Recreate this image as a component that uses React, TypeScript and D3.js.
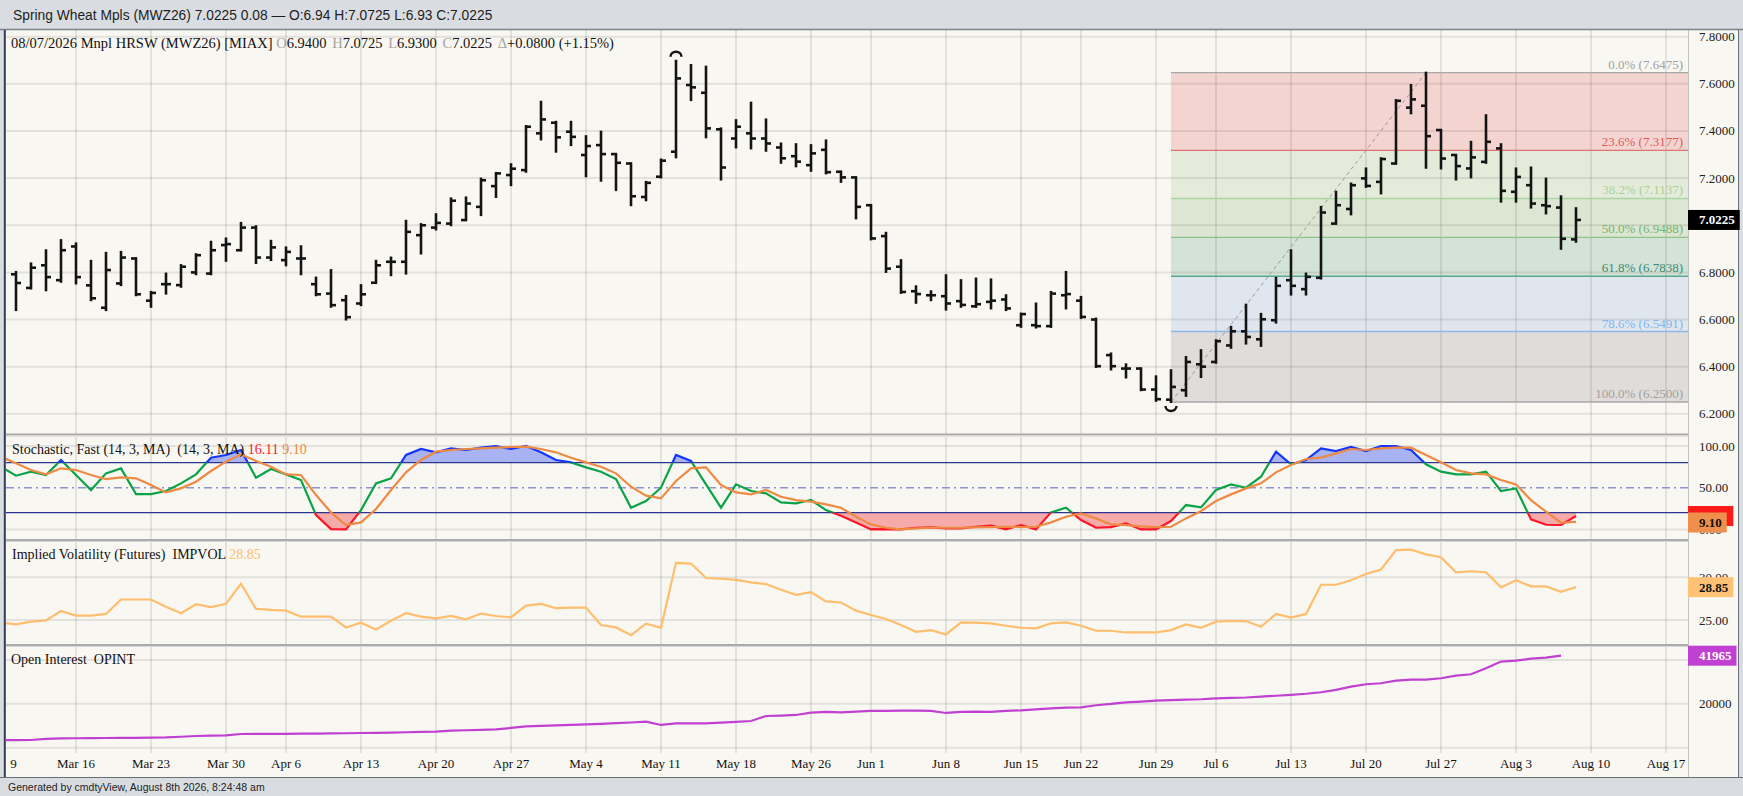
import * as d3 from "d3";

const W = 1743;
const H = 796;

// ---- calendar ----
const START_DATE = "2026-03-09";
const AXIS_END_DATE = "2026-08-21";
const HOLIDAYS = ["2026-04-03", "2026-05-25", "2026-06-19", "2026-07-03"];

// ---- price bars, Mar 10 .. Aug 7 (trading-day index 1..105) ----
const BAR_OFFSET = 1;
const OPEN = [
  6.792, 6.734, 6.83, 6.767, 6.91, 6.745, 6.65, 6.753, 6.859, 6.68,
  6.75, 6.746, 6.8, 6.795, 6.916, 6.894, 6.99, 6.863, 6.852, 6.859,
  6.75, 6.71, 6.682, 6.668, 6.756, 6.845, 6.845, 6.958, 6.99, 7.007,
  7.022, 7.078, 7.166, 7.213, 7.234, 7.39, 7.435, 7.397, 7.298, 7.34,
  7.302, 7.262, 7.12, 7.206, 7.312, 7.595, 7.562, 7.407, 7.368, 7.39,
  7.368, 7.33, 7.293, 7.255, 7.32, 7.227, 7.203, 7.085, 6.954, 6.824,
  6.72, 6.703, 6.699, 6.678, 6.656, 6.675, 6.685, 6.576, 6.576, 6.572,
  6.703, 6.68, 6.6, 6.449, 6.392, 6.392, 6.303, 6.26, 6.3, 6.41,
  6.42, 6.49, 6.55, 6.516, 6.597, 6.767, 6.729, 6.777, 7.007, 7.069,
  7.199, 7.184, 7.262, 7.499, 7.507, 7.404, 7.298, 7.241, 7.269, 7.326,
  7.142, 7.17, 7.085, 7.075, 6.94,
];
const HIGH = [
  6.802, 6.838, 6.894, 6.937, 6.923, 6.849, 6.883, 6.887, 6.859, 6.717,
  6.795, 6.831, 6.877, 6.93, 6.944, 7.01, 6.996, 6.934, 6.906, 6.911,
  6.778, 6.81, 6.7, 6.746, 6.849, 6.863, 7.019, 7.005, 7.047, 7.114,
  7.118, 7.198, 7.222, 7.259, 7.421, 7.524, 7.439, 7.439, 7.378, 7.397,
  7.302, 7.262, 7.184, 7.279, 7.698, 7.68, 7.673, 7.411, 7.446, 7.52,
  7.449, 7.347, 7.344, 7.34, 7.36, 7.227, 7.203, 7.085, 6.968, 6.852,
  6.741, 6.72, 6.788, 6.767, 6.774, 6.77, 6.703, 6.625, 6.668, 6.717,
  6.802, 6.696, 6.604, 6.456, 6.41, 6.392, 6.359, 6.385, 6.441, 6.47,
  6.512, 6.569, 6.663, 6.624, 6.777, 6.894, 6.795, 7.078, 7.142, 7.177,
  7.241, 7.284, 7.531, 7.595, 7.6475, 7.404, 7.298, 7.354, 7.467, 7.344,
  7.241, 7.245, 7.198, 7.123, 7.0725,
];
const LOW = [
  6.64, 6.732, 6.724, 6.76, 6.753, 6.682, 6.64, 6.746, 6.703, 6.654,
  6.71, 6.739, 6.792, 6.792, 6.849, 6.894, 6.84, 6.852, 6.83, 6.792,
  6.703, 6.654, 6.6, 6.661, 6.756, 6.788, 6.795, 6.88, 6.982, 7.0,
  7.022, 7.043, 7.12, 7.17, 7.227, 7.364, 7.312, 7.34, 7.208, 7.189,
  7.149, 7.085, 7.106, 7.203, 7.288, 7.531, 7.373, 7.194, 7.33, 7.326,
  7.316, 7.265, 7.25, 7.231, 7.22, 7.184, 7.029, 6.94, 6.802, 6.713,
  6.671, 6.682, 6.642, 6.654, 6.654, 6.647, 6.64, 6.569, 6.566, 6.569,
  6.647, 6.607, 6.399, 6.388, 6.354, 6.3, 6.255, 6.25, 6.276, 6.356,
  6.417, 6.48, 6.498, 6.488, 6.587, 6.706, 6.706, 6.774, 7.007, 7.046,
  7.163, 7.135, 7.262, 7.475, 7.244, 7.241, 7.194, 7.203, 7.265, 7.1,
  7.1, 7.075, 7.05, 6.9, 6.93,
];
const CLOSE = [
  6.755, 6.82, 6.78, 6.894, 6.78, 6.69, 6.81, 6.863, 6.707, 6.713,
  6.75, 6.824, 6.873, 6.894, 6.92, 6.99, 6.863, 6.906, 6.887, 6.859,
  6.707, 6.661, 6.61, 6.707, 6.83, 6.845, 6.972, 7.0, 7.01, 7.104,
  7.092, 7.191, 7.22, 7.24, 7.418, 7.449, 7.373, 7.375, 7.336, 7.302,
  7.265, 7.123, 7.18, 7.274, 7.623, 7.585, 7.411, 7.245, 7.418, 7.368,
  7.347, 7.284, 7.27, 7.305, 7.225, 7.203, 7.078, 6.944, 6.816, 6.717,
  6.708, 6.703, 6.668, 6.662, 6.665, 6.68, 6.647, 6.623, 6.572, 6.71,
  6.708, 6.611, 6.402, 6.402, 6.392, 6.303, 6.262, 6.314, 6.42, 6.4,
  6.508, 6.55, 6.526, 6.601, 6.743, 6.743, 6.781, 7.054, 7.085, 7.17,
  7.167, 7.281, 7.528, 7.534, 7.378, 7.283, 7.251, 7.288, 7.354, 7.146,
  7.205, 7.092, 7.081, 6.9425, 7.0225,
];

// ---- indicators, Mar 9 .. (index 0..) ----
const STOCH_K = [
  75, 64.4, 69.2, 65.2, 83.2, 65.2, 47.2, 67.2, 73.2, 42.4,
  42.4, 46, 55.2, 66, 86, 89.2, 95.2, 62, 72.4, 66,
  59.2, 17.2, 0.4, 0, 23.2, 55.2, 61.2, 89.2, 96.4, 92.4,
  97.2, 95.2, 98, 100, 96.4, 100, 92.4, 83.2, 80.4, 74.4,
  69.2, 60.4, 26, 34, 50, 89.2, 82, 54, 26, 54,
  46, 43.2, 32.4, 31.2, 35.2, 23.2, 16.4, 8.4, 0, 0.4,
  0, 2, 2.4, 1.2, 1.2, 3.2, 4.4, 0, 5.2, 0,
  20.4, 26, 11.2, 2, 2.8, 7.2, 0, 0, 10, 29.2,
  26.4, 47.2, 54, 50, 63.2, 93.2, 78, 83.2, 97.2, 94,
  98.8, 94, 100, 100, 95.2, 78, 69.2, 66, 66, 69.2,
  46, 49.2, 12, 5.6, 5.3, 16.11,
];
const STOCH_D = [
  87, 79.2, 71.2, 66, 73.2, 71.2, 65.2, 60.4, 62.4, 61.2,
  53.2, 44.4, 49.2, 57.2, 70, 81.2, 90, 82, 75.2, 66,
  65.2, 41.2, 20.4, 5.2, 8.4, 24.4, 47.2, 68.4, 83.2, 93.2,
  95.2, 96.4, 97.2, 98, 98.8, 99.2, 96.4, 92.4, 86, 80.4,
  75.2, 67.2, 51.2, 40.4, 37.2, 58, 73.2, 74.4, 53.2, 44.4,
  42, 47.2, 39.2, 35.2, 33.2, 30, 26, 15.2, 6, 2,
  0, 1.2, 2, 2, 2, 2.4, 2.8, 3.2, 2.8, 3.2,
  8.4, 15.2, 19.2, 13.2, 6, 5.2, 3.6, 2.8, 3.2, 13.2,
  22, 34, 42, 49.2, 55.2, 68.4, 77.2, 84.4, 86, 91.2,
  96.4, 95.2, 97.2, 98, 98, 89.2, 80.4, 71.2, 67.2, 66,
  59.2, 54, 35, 21.2, 8, 9.1,
];
const IMPVOL = [
  24.72, 24.49, 24.8, 24.96, 26.06, 25.51, 25.51, 25.71, 27.4, 27.4,
  27.4, 26.54, 25.79, 26.85, 26.5, 26.89, 29.25, 26.3, 26.18, 26.1,
  25.39, 25.39, 25.39, 24.13, 24.69, 23.9, 24.92, 25.79, 25.39, 25.2,
  25.47, 25.08, 25.75, 25.47, 25.31, 26.69, 26.89, 26.38, 26.46, 26.46,
  24.41, 24.13, 23.23, 24.57, 24.09, 31.69, 31.61, 29.92, 29.84, 29.69,
  29.41, 29.21, 28.54, 27.95, 28.27, 27.17, 27.05, 26.1, 25.59, 25.12,
  24.41, 23.62, 23.82, 23.31, 24.72, 24.69, 24.61, 24.33, 24.09, 24.02,
  24.61, 24.72, 24.33, 23.74, 23.74, 23.54, 23.54, 23.54, 23.82, 24.49,
  24.09, 24.8, 24.88, 24.88, 24.21, 25.71, 25.28, 25.71, 29.13, 29.13,
  29.65, 30.39, 30.91, 33.19, 33.23, 32.68, 32.36, 30.59, 30.71, 30.59,
  28.82, 29.65, 28.94, 28.94, 28.31, 28.85,
];
const OPINT = [
  3500, 3500, 3520, 4000, 4280, 4300, 4350, 4430, 4450, 4500,
  4590, 4700, 5000, 5340, 5500, 5650, 6260, 6280, 6300, 6320,
  6380, 6400, 6500, 6600, 6710, 6800, 6900, 7050, 7200, 7310,
  7760, 7950, 8150, 8370, 9000, 9760, 9950, 10150, 10400, 10680,
  10900, 11200, 11500, 11890, 10370, 11130, 11130, 11130, 11430, 11740,
  12190, 14470, 14630, 14930, 16000, 16300, 16150, 16450, 16760, 16760,
  16910, 16910, 16760, 15840, 16300, 16450, 16300, 16760, 17060, 17520,
  17980, 18280, 18430, 19350, 19950, 20710, 21020, 21470, 21700, 21900,
  22100, 22500, 22700, 22900, 23300, 23700, 24100, 24600, 25290, 26350,
  27870, 28940, 29400, 30610, 31060, 31060, 31670, 32890, 33500, 36240,
  39270, 39720, 40640, 41090, 41965,
];

// ---- axes / studies ----
const PRICE_TICKS = [6.2, 6.4, 6.6, 6.8, 7.0, 7.2, 7.4, 7.6, 7.8];
const STOCH_TICKS = [100, 50, 0];
const IV_TICKS = [30, 25];
const OI_TICKS = [40000, 20000];
const FIB_HIGH = 7.6475;
const FIB_LOW = 6.25;
const FIB_LOW_INDEX = 78;
const FIB_HIGH_INDEX = 95;
const FIB_LEVELS = [0, 0.236, 0.382, 0.5, 0.618, 0.786, 1];
const FIB_BAND_COLORS = ["#f4d4d0", "#e5ebdb", "#dde6d2", "#d4e3d8", "#dfe6ee", "#e0dcd9"];
const FIB_LINE_COLORS = ["#a8a8a8", "#e07272", "#a8d6a0", "#8cc48c", "#5aa88e", "#8db8e8", "#a8a8a8"];
const FIB_TEXT_COLORS = ["#a0a0a0", "#e05a5a", "#a6d296", "#74b674", "#3a8a70", "#7fb6f0", "#a0a0a0"];

const SERIF = "'Liberation Serif', 'Times New Roman', serif";
const SANS = "'Liberation Sans', Arial, sans-serif";

const BG = "#f9f7f1";
const GRID = "rgba(0,0,0,0.085)";
const FRAME = "#d9dde2";

const PLOT_L = 6;
const PLOT_R = 1688;
const AXIS_TX = 1699;

const MAIN = { top: 30, bottom: 434 };
const STOCH = { top: 437, bottom: 539 };
const IVP = { top: 542, bottom: 644 };
const OIP = { top: 647, bottom: 753 };
const XAXIS_BOTTOM = 777;

function tradingDays(start: string, end: string, holidays: string[]) {
  const skip = new Set(holidays);
  const fmt = d3.utcFormat("%Y-%m-%d");
  const out: Date[] = [];
  const last = new Date(end + "T00:00:00Z");
  for (let d = new Date(start + "T00:00:00Z"); d <= last; d = d3.utcDay.offset(d, 1)) {
    const wd = d.getUTCDay();
    if (wd === 0 || wd === 6 || skip.has(fmt(d))) continue;
    out.push(d);
  }
  return out;
}

// rough width of a bold 13px serif number
const numWidth = (s: string) =>
  s.split("").reduce((w, c) => w + (c === "." ? 3.25 : 6.5), 0);

function AxisBox({ y, text, fill, color }: { y: number; text: string; fill: string; color: string }) {
  const w = AXIS_TX - PLOT_R + numWidth(text) + 5;
  return (
    <g>
      <rect x={PLOT_R} y={y - 10} width={w} height={20} fill={fill} />
      <text x={AXIS_TX} y={y + 4.5} fontFamily={SERIF} fontSize={13} fontWeight="bold" fill={color}>
        {text}
      </text>
    </g>
  );
}

const PRE = { whiteSpace: "pre" as const };

export default function App() {
  const days = tradingDays(START_DATE, AXIS_END_DATE, HOLIDAYS);
  const weekStarts = days
    .map((_, i) => i)
    .filter((i) => i === 0 || days[i].getUTCDay() < days[i - 1].getUTCDay());
  const fmtTick = d3.utcFormat("%b %-d");

  const x = d3.scaleLinear().domain([0, 105]).range([1, 1576]);
  const yP = d3.scaleLinear().domain([6.2, 7.8]).range([413.8, 36.7]);
  const yS = d3.scaleLinear().domain([0, 100]).range([529.4, 446]);
  const yV = d3.scaleLinear().domain([25, 30]).range([620, 577.3]);
  const yO = d3.scaleLinear().domain([0, 40000]).range([747.7, 660]);

  const lineOf = (ys: d3.ScaleLinear<number, number>) =>
    d3.line<number>().x((_, i) => x(i)).y((d) => ys(d));

  const kPath = lineOf(yS)(STOCH_K) ?? "";
  const dPath = lineOf(yS)(STOCH_D) ?? "";
  const hiArea = d3.area<number>().x((_, i) => x(i)).y0(yS(80)).y1((d) => yS(d))(STOCH_K) ?? "";
  const loArea = d3.area<number>().x((_, i) => x(i)).y0(yS(20)).y1((d) => yS(d))(STOCH_K) ?? "";
  const ivPath = lineOf(yV)(IMPVOL) ?? "";
  const oiPath = lineOf(yO)(OPINT) ?? "";

  const fibValues = FIB_LEVELS.map((l) => FIB_HIGH - l * (FIB_HIGH - FIB_LOW));
  const fibX0 = x(FIB_LOW_INDEX);

  const hiIdx = d3.maxIndex(HIGH);
  const loIdx = d3.minIndex(LOW);
  const plotW = PLOT_R - PLOT_L;
  const last = CLOSE.length - 1;

  const gridV = (top: number, bottom: number) =>
    weekStarts.map((i) => (
      <line key={i} x1={x(i)} x2={x(i)} y1={top} y2={bottom} stroke={GRID} strokeWidth={2} />
    ));
  const gridH = (ys: number[]) =>
    ys.map((y, k) => <line key={k} x1={PLOT_L} x2={PLOT_R} y1={y} y2={y} stroke={GRID} strokeWidth={2} />);

  const separator = (y: number) => (
    <g>
      <rect x={PLOT_L} y={y - 1.5} width={plotW} height={2} fill="#ababab" />
      <rect x={PLOT_L} y={y + 0.5} width={plotW} height={1} fill="#d6d6d6" />
    </g>
  );

  const gray = "#a3a3a3";

  return (
    <div style={{ position: "absolute", left: 0, top: 0 }}>
      <svg width={W} height={H} style={{ display: "block" }}>
        <defs>
          <clipPath id="clip-main">
            <rect x={PLOT_L} y={MAIN.top} width={plotW} height={MAIN.bottom - MAIN.top} />
          </clipPath>
          <clipPath id="clip-stoch">
            <rect x={PLOT_L} y={STOCH.top} width={plotW} height={STOCH.bottom - STOCH.top} />
          </clipPath>
          <clipPath id="clip-stoch-hi">
            <rect x={PLOT_L} y={STOCH.top} width={plotW} height={yS(80) - STOCH.top} />
          </clipPath>
          <clipPath id="clip-stoch-mid">
            <rect x={PLOT_L} y={yS(80)} width={plotW} height={yS(20) - yS(80)} />
          </clipPath>
          <clipPath id="clip-stoch-lo">
            <rect x={PLOT_L} y={yS(20)} width={plotW} height={STOCH.bottom - yS(20)} />
          </clipPath>
          <clipPath id="clip-iv">
            <rect x={PLOT_L} y={IVP.top} width={plotW} height={IVP.bottom - IVP.top} />
          </clipPath>
          <clipPath id="clip-oi">
            <rect x={PLOT_L} y={OIP.top} width={plotW} height={OIP.bottom - OIP.top} />
          </clipPath>
          <clipPath id="clip-xaxis">
            <rect x={8} y={OIP.bottom} width={PLOT_R - 8} height={XAXIS_BOTTOM - OIP.bottom} />
          </clipPath>
        </defs>

        {/* frame */}
        <rect x={0} y={0} width={W} height={H} fill={FRAME} />
        <rect x={PLOT_L} y={MAIN.top} width={1738 - PLOT_L} height={XAXIS_BOTTOM - MAIN.top} fill={BG} />
        <line x1={0} x2={W} y1={29.5} y2={29.5} stroke="#7d8188" strokeWidth={1.5} />
        <line x1={4.8} x2={4.8} y1={30} y2={XAXIS_BOTTOM} stroke="#34405a" strokeWidth={2} />
        <line x1={1738.5} x2={1738.5} y1={30} y2={XAXIS_BOTTOM} stroke="#6a6e75" strokeWidth={1} />
        <line x1={0} x2={W} y1={XAXIS_BOTTOM + 0.5} y2={XAXIS_BOTTOM + 0.5} stroke="#6a6e75" strokeWidth={1.2} />
        <line x1={PLOT_R + 0.5} x2={PLOT_R + 0.5} y1={30} y2={XAXIS_BOTTOM} stroke="#c4c4c4" strokeWidth={1} />

        <text x={13} y={20} fontFamily={SANS} fontSize={13.8} fill="#1e1e1e">
          Spring Wheat Mpls (MWZ26) 7.0225 0.08 — O:6.94 H:7.0725 L:6.93 C:7.0225
        </text>

        {/* ===== price panel ===== */}
        <g clipPath="url(#clip-main)">
          {FIB_BAND_COLORS.map((c, k) => (
            <rect
              key={k}
              x={fibX0}
              y={yP(fibValues[k])}
              width={PLOT_R - fibX0}
              height={yP(fibValues[k + 1]) - yP(fibValues[k])}
              fill={c}
            />
          ))}
          {gridH(PRICE_TICKS.map((t) => yP(t)))}
          {gridV(MAIN.top, MAIN.bottom)}
          {fibValues.map((v, k) => (
            <g key={k}>
              <line x1={fibX0} x2={PLOT_R} y1={yP(v)} y2={yP(v)} stroke={FIB_LINE_COLORS[k]} strokeWidth={1.4} />
              <text x={1683} y={yP(v) - 4} textAnchor="end" fontFamily={SERIF} fontSize={13} fill={FIB_TEXT_COLORS[k]}>
                {`${(FIB_LEVELS[k] * 100).toFixed(1)}% (${(v + 1e-7).toFixed(4)})`}
              </text>
            </g>
          ))}
          <line
            x1={x(FIB_LOW_INDEX)}
            y1={yP(FIB_LOW)}
            x2={x(FIB_HIGH_INDEX)}
            y2={yP(FIB_HIGH)}
            stroke="#9c9c9c"
            strokeWidth={1}
            strokeDasharray="4,3"
          />
          <g stroke="#141414" strokeWidth={2.6}>
            {OPEN.map((o, k) => {
              const cx = x(k + BAR_OFFSET);
              return (
                <g key={k}>
                  <line x1={cx} x2={cx} y1={yP(HIGH[k]) - 1} y2={yP(LOW[k]) + 1} />
                  <line x1={cx - 5} x2={cx + 1} y1={yP(o)} y2={yP(o)} />
                  <line x1={cx - 1} x2={cx + 5} y1={yP(CLOSE[k])} y2={yP(CLOSE[k])} />
                </g>
              );
            })}
          </g>
          <path
            d={`M${x(hiIdx + BAR_OFFSET) - 5.5},${yP(HIGH[hiIdx]) - 4} a5.5,5 0 0 1 11,0`}
            fill="none"
            stroke="#141414"
            strokeWidth={2.4}
          />
          <path
            d={`M${x(loIdx + BAR_OFFSET) - 5.5},${yP(LOW[loIdx]) + 4} a5.5,5 0 0 0 11,0`}
            fill="none"
            stroke="#141414"
            strokeWidth={2.4}
          />
        </g>
        <text x={11} y={48} fontFamily={SERIF} fontSize={14.5} fill="#111" style={PRE}>
          <tspan>{"08/07/2026 Mnpl HRSW (MWZ26) [MIAX] "}</tspan>
          <tspan fill={gray}>O</tspan>
          <tspan>{"6.9400 "}</tspan>
          <tspan dx={2} fill={gray}>H</tspan>
          <tspan>{"7.0725 "}</tspan>
          <tspan dx={2} fill={gray}>L</tspan>
          <tspan>{"6.9300 "}</tspan>
          <tspan dx={2} fill={gray}>C</tspan>
          <tspan>{"7.0225 "}</tspan>
          <tspan dx={2} fill={gray}>Δ</tspan>
          <tspan>{"+0.0800 (+1.15%)"}</tspan>
        </text>
        {PRICE_TICKS.map((t) => (
          <text key={t} x={AXIS_TX} y={yP(t) + 4.5} fontFamily={SERIF} fontSize={13} fill="#222">
            {t.toFixed(4)}
          </text>
        ))}
        <AxisBox y={yP(CLOSE[last])} text={CLOSE[last].toFixed(4)} fill="#000" color="#fff" />

        {separator(MAIN.bottom + 1)}

        {/* ===== stochastic ===== */}
        <g clipPath="url(#clip-stoch)">
          {gridH([yS(100), yS(0)])}
          {gridV(STOCH.top, STOCH.bottom)}
        </g>
        <path d={hiArea} fill="#aab3f2" clipPath="url(#clip-stoch-hi)" />
        <path d={loArea} fill="#f6aaaa" clipPath="url(#clip-stoch-lo)" />
        <g clipPath="url(#clip-stoch)">
          <line x1={PLOT_L} x2={PLOT_R} y1={yS(80)} y2={yS(80)} stroke="#2d3592" strokeWidth={1.2} />
          <line x1={PLOT_L} x2={PLOT_R} y1={yS(20)} y2={yS(20)} stroke="#2d3592" strokeWidth={1.2} />
          <line
            x1={PLOT_L}
            x2={PLOT_R}
            y1={yS(50)}
            y2={yS(50)}
            stroke="#8e95cc"
            strokeWidth={1.6}
            strokeDasharray="8,4,2,4"
          />
        </g>
        <path d={kPath} fill="none" stroke="#1536ff" strokeWidth={2.2} clipPath="url(#clip-stoch-hi)" />
        <path d={kPath} fill="none" stroke="#0ba348" strokeWidth={2.2} clipPath="url(#clip-stoch-mid)" />
        <path d={kPath} fill="none" stroke="#ff1628" strokeWidth={2.2} clipPath="url(#clip-stoch-lo)" />
        <path d={dPath} fill="none" stroke="#ee8a42" strokeWidth={2.2} clipPath="url(#clip-stoch)" />
        <text x={12} y={454} fontFamily={SERIF} fontSize={14} fill="#111" style={PRE}>
          <tspan>{"Stochastic, Fast (14, 3, MA)  (14, 3, MA) "}</tspan>
          <tspan fill="#ff1a1a">{"16.11 "}</tspan>
          <tspan fill="#ee8a42">9.10</tspan>
        </text>
        {STOCH_TICKS.map((t) => (
          <text key={t} x={AXIS_TX} y={yS(t) + 4.5} fontFamily={SERIF} fontSize={13} fill="#222">
            {t.toFixed(2)}
          </text>
        ))}
        <AxisBox y={516} text="16.11" fill="#ff1a1a" color="#111" />
        <AxisBox y={522.5} text="9.10" fill="#ee8f4c" color="#111" />

        {separator(STOCH.bottom + 1.5)}

        {/* ===== implied volatility ===== */}
        <g clipPath="url(#clip-iv)">
          {gridH(IV_TICKS.map((t) => yV(t)))}
          {gridV(IVP.top, IVP.bottom)}
          <path d={ivPath} fill="none" stroke="#ffbe6e" strokeWidth={2.2} />
        </g>
        <text x={12} y={559} fontFamily={SERIF} fontSize={14} fill="#111" style={PRE}>
          <tspan>{"Implied Volatility (Futures)  IMPVOL "}</tspan>
          <tspan fill="#ffbe6e">28.85</tspan>
        </text>
        {IV_TICKS.map((t) => (
          <text key={t} x={AXIS_TX} y={yV(t) + 4.5} fontFamily={SERIF} fontSize={13} fill="#222">
            {t.toFixed(2)}
          </text>
        ))}
        <AxisBox y={yV(IMPVOL[IMPVOL.length - 1])} text="28.85" fill="#ffc274" color="#111" />

        {separator(IVP.bottom + 1.5)}

        {/* ===== open interest ===== */}
        <g clipPath="url(#clip-oi)">
          {gridH([yO(40000), yO(20000), yO(0)])}
          {gridV(OIP.top, OIP.bottom)}
          <path d={oiPath} fill="none" stroke="#c040d2" strokeWidth={2.2} />
        </g>
        <text x={11} y={664} fontFamily={SERIF} fontSize={14} fill="#111" style={PRE}>
          {"Open Interest  OPINT"}
        </text>
        {OI_TICKS.map((t) => (
          <text key={t} x={AXIS_TX} y={yO(t) + 4.5} fontFamily={SERIF} fontSize={13} fill="#222">
            {t}
          </text>
        ))}
        <AxisBox y={yO(OPINT[OPINT.length - 1])} text={String(OPINT[OPINT.length - 1])} fill="#c040d2" color="#fff" />

        {/* ===== date axis ===== */}
        <g clipPath="url(#clip-xaxis)">
          {weekStarts.map((i) => (
            <text key={i} x={x(i)} y={768} textAnchor="middle" fontFamily={SERIF} fontSize={13} fill="#111">
              {fmtTick(days[i])}
            </text>
          ))}
        </g>

        <text x={8} y={791} fontFamily={SANS} fontSize={10.5} fill="#222">
          Generated by cmdtyView, August 8th 2026, 8:24:48 am
        </text>
      </svg>
    </div>
  );
}
